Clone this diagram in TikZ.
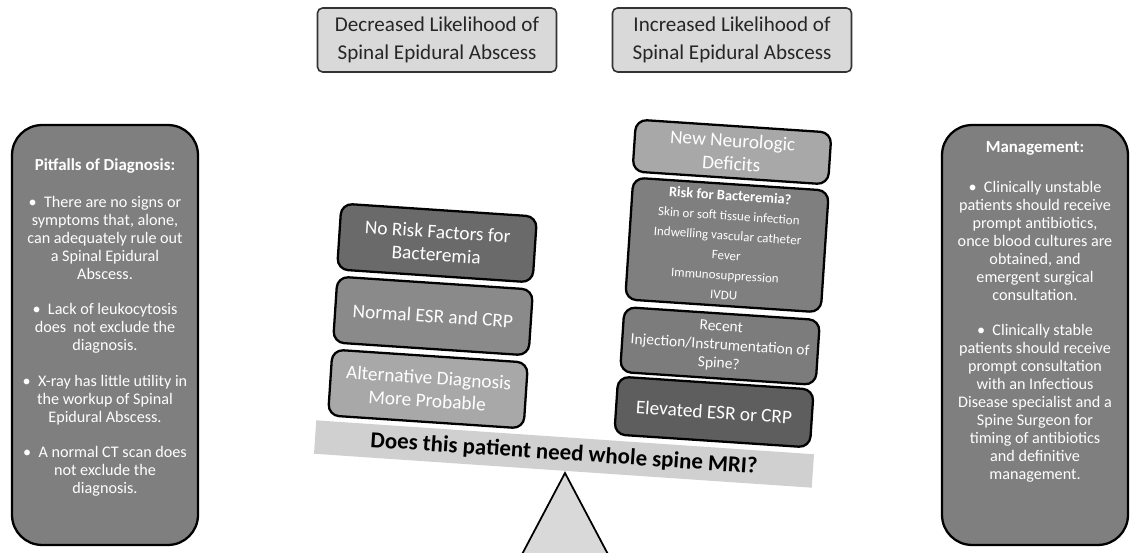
\documentclass[tikz,border=0pt]{standalone}
\usepackage{fontspec}
\setmainfont{Carlito}
\usepackage{tikz}

\definecolor{panelgray}{HTML}{7F7F7F}
\definecolor{topgray}{HTML}{D9D9D9}
\definecolor{beamgray}{HTML}{D0D0D0}
\definecolor{darkbox}{HTML}{6A6A6A}
\definecolor{midbox}{HTML}{8A8A8A}
\definecolor{lightbox}{HTML}{A8A8A8}
\definecolor{deepbox}{HTML}{5E5E5E}

\begin{document}
\begin{tikzpicture}[x=0.02cm, y=-0.02cm,
  panel/.style={draw=black, line width=1.3pt, fill=panelgray, rounded corners=0.6cm,
    minimum width=3.72cm, minimum height=8.4cm, text=white, align=center,
    font=\fontsize{9.2}{10.2}\selectfont},
  topbox/.style={draw=black!80, line width=0.9pt, fill=topgray, rounded corners=0.1cm,
    minimum width=4.78cm, minimum height=1.28cm, align=center, text=black!85,
    font=\fontsize{12}{15.5}\selectfont},
  stackbox/.style={draw=black, line width=1.3pt, rounded corners=0.22cm, rotate=-3.8,
    text=white, align=center, inner sep=2pt, minimum width=3.92cm,
    font=\fontsize{11}{13}\selectfont}]
\clip (0,0) rectangle (1136,553);

% side panels
\node[panel] (pitfalls) at (105,335) {\textbf{\fontsize{9.6}{10.2}\selectfont Pitfalls of Diagnosis:}\\[11pt]
  \textbullet\ \ There are no signs or\\ symptoms that, alone,\\ can adequately rule out\\ a Spinal Epidural\\ Abscess.\\[10pt]
  \textbullet\ \ Lack of leukocytosis\\ does\ \ not exclude the\\ diagnosis.\\[10pt]
  \textbullet\ \ X-ray has little utility in\\ the workup of Spinal\\ Epidural Abscess.\\[10pt]
  \textbullet\ \ A normal CT scan does\\ not exclude the\\ diagnosis.\\[0pt]};
\node[panel] (management) at (1035,335) {\textbf{\fontsize{9.6}{10.2}\selectfont Management:}\\[13pt]
  \textbullet\ \ Clinically unstable\\ patients should receive\\ prompt antibiotics,\\ once blood cultures are\\ obtained, and\\ emergent surgical\\ consultation.\\[10pt]
  \textbullet\ \ Clinically stable\\ patients should receive\\ prompt consultation\\ with an Infectious\\ Disease specialist and a\\ Spine Surgeon for\\ timing of antibiotics\\ and definitive\\ management.\\[18pt]};

% headings
\node[topbox] (decreased) at (437,40) {Decreased Likelihood of\\ Spinal Epidural Abscess};
\node[topbox] (increased) at (732,40) {Increased Likelihood of\\ Spinal Epidural Abscess};

% fulcrum and beam
\coordinate (apex) at (565,473);
\draw[line width=1pt, fill=topgray] (apex) -- (519,560) -- (611,560) -- cycle;
\node[fill=beamgray, rotate=-3.9, minimum width=9.98cm, minimum height=0.67cm,
  font=\fontsize{13}{15}\selectfont\bfseries] (beam) at (564,454)
  {Does this patient need whole spine MRI?};

% left pan
\node[stackbox, fill=darkbox, minimum height=1.32cm] (norisk) at (437,243) {No Risk Factors for\\ Bacteremia};
\node[stackbox, fill=midbox, minimum height=1.32cm] (normal) at (433,316) {Normal ESR and CRP};
\node[stackbox, fill=lightbox, minimum height=1.32cm] (altdx) at (428,389) {Alternative Diagnosis\\ More Probable};

% right pan
\node[stackbox, fill=lightbox, minimum height=1.04cm] (neuro) at (732,152) {New Neurologic\\ Deficits};
\node[stackbox, fill=panelgray, minimum height=2.44cm, font=\fontsize{7.4}{11.3}\selectfont]
  (risk) at (727,245) {{\fontsize{8.2}{11.3}\selectfont\bfseries Risk for Bacteremia?}\\
  Skin or soft tissue infection\\ Indwelling vascular catheter\\ Fever\\ Immunosuppression\\ IVDU};
\node[stackbox, fill=midbox!90!black, minimum height=1.3cm, font=\fontsize{8.8}{10.5}\selectfont]
  (recent) at (720,346) {Recent\\ Injection/Instrumentation of\\ Spine?};
\node[stackbox, fill=deepbox, minimum height=1.16cm] (elevated) at (714,412) {Elevated ESR or CRP};
\end{tikzpicture}
\end{document}
